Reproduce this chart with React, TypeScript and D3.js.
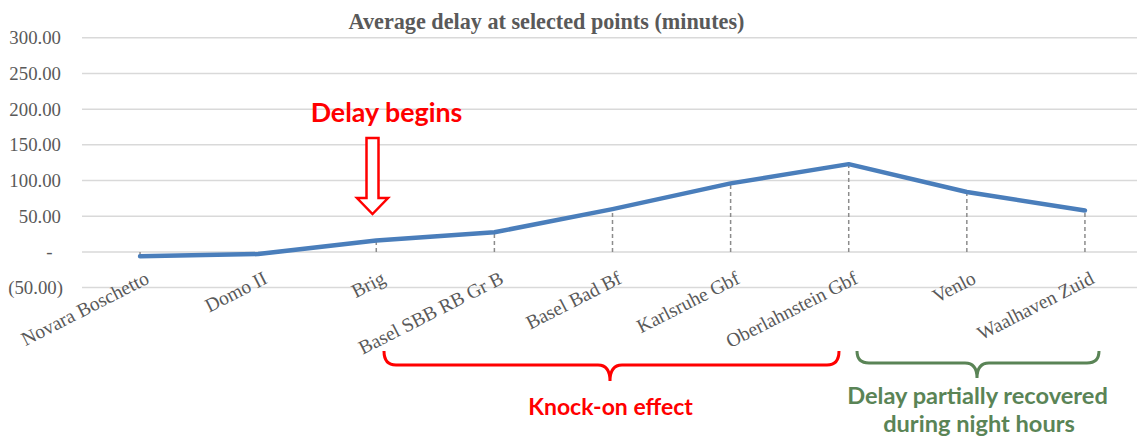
import React from "react";
import * as d3 from "d3";

const categories = [
  "Novara Boschetto",
  "Domo II",
  "Brig",
  "Basel SBB RB Gr B",
  "Basel Bad Bf",
  "Karlsruhe Gbf",
  "Oberlahnstein Gbf",
  "Venlo",
  "Waalhaven Zuid",
];
const avgDelay = [-6, -3, 16, 27.5, 60, 96, 123, 84, 58];
const yTicks = [-50, 0, 50, 100, 150, 200, 250, 300];

const W = 1137;
const H = 439;

function fmt(v: number) {
  if (v === 0) return "-";
  if (v < 0) return "(" + d3.format(".2f")(-v) + ")";
  return d3.format(".2f")(v);
}

function bracePath(x0: number, x1: number, cx: number, yTop: number, yLine: number, yTip: number, r: number) {
  return [
    `M${x0},${yTop}`,
    `Q${x0},${yLine} ${x0 + r},${yLine}`,
    `L${cx - r},${yLine}`,
    `Q${cx},${yLine} ${cx},${yTip}`,
    `Q${cx},${yLine} ${cx + r},${yLine}`,
    `L${x1 - r},${yLine}`,
    `Q${x1},${yLine} ${x1},${yTop}`,
  ].join(" ");
}

export default function App() {
  const x = d3.scaleBand<string>().domain(categories).range([81, 1144]).padding(0);
  const cx = (c: string) => (x(c) as number) + x.bandwidth() / 2;
  const y = d3.scaleLinear().domain([-50, 300]).range([287.6, 37.8]);

  const pts: [number, number][] = categories.map((c, i) => [cx(c), y(avgDelay[i])]);
  const line = d3
    .line<[number, number]>()
    .x((d) => d[0])
    .y((d) => d[1])
    .curve(d3.curveLinear);

  const serif = "'Liberation Serif', 'Times New Roman', serif";
  const sans = "Lato, 'Open Sans', sans-serif";
  const gray = "#595959";
  const red = "#ff0000";
  const green = "#5a8456";

  const ax = 372.5;
  const aTop = 138;
  const aHead = 198;
  const aTip = 214;
  const shaftHalf = 6;
  const headHalf = 15.5;
  const arrowPath = `M${ax - shaftHalf},${aTop} L${ax + shaftHalf},${aTop} L${ax + shaftHalf},${aHead} L${ax + headHalf},${aHead} L${ax},${aTip} L${ax - headHalf},${aHead} L${ax - shaftHalf},${aHead} Z`;

  return (
    <svg
      width={W}
      height={H}
      style={{ position: "absolute", left: 0, top: 0, background: "#fff" }}
    >
      <rect width={W} height={H} fill="#fff" />
      <text
        x={546.5}
        y={28.5}
        textAnchor="middle"
        fontFamily={serif}
        fontWeight="bold"
        fontSize={22.2}
        fill={gray}
      >
        Average delay at selected points (minutes)
      </text>

      {yTicks.map((t) => (
        <g key={t}>
          <line x1={82} x2={W} y1={y(t)} y2={y(t)} stroke="#d9d9d9" strokeWidth={1.5} />
          <text
            x={t === 0 ? 49.5 : t < 0 ? 63 : 61}
            y={y(t)}
            dy="0.35em"
            textAnchor={t === 0 ? "middle" : "end"}
            fontFamily={serif}
            fontSize={18.8}
            fill={gray}
          >
            {fmt(t)}
          </text>
        </g>
      ))}

      {categories.map((c, i) => (
        <line
          key={"d" + c}
          x1={cx(c)}
          x2={cx(c)}
          y1={y(0)}
          y2={y(avgDelay[i])}
          stroke="#8c8c8c"
          strokeWidth={1.5}
          strokeDasharray="4,3"
        />
      ))}

      <path
        d={line(pts) as string}
        fill="none"
        stroke="#4a7ebb"
        strokeWidth={4.5}
        strokeLinecap="round"
        strokeLinejoin="round"
      />

      {categories.map((c) => (
        <text
          key={"l" + c}
          transform={`translate(${cx(c) + 4},${270}) rotate(-27)`}
          textAnchor="end"
          dy="0.72em"
          fontFamily={serif}
          fontSize={19.5}
          fill={gray}
        >
          {c}
        </text>
      ))}

      <text
        x={386.5}
        y={121.5}
        textAnchor="middle"
        fontFamily={sans}
        fontWeight="bold"
        fontSize={26.8}
        fill={red}
      >
        Delay begins
      </text>
      <path d={arrowPath} fill="#fff" stroke={red} strokeWidth={2.5} strokeLinejoin="miter" />

      <path
        d={bracePath(384, 839, 610, 351, 365, 381, 12)}
        fill="none"
        stroke={red}
        strokeWidth={3}
      />
      <text
        x={610.5}
        y={415}
        textAnchor="middle"
        fontFamily={sans}
        fontWeight="bold"
        fontSize={23}
        fill={red}
      >
        Knock-on effect
      </text>

      <path
        d={bracePath(857, 1099, 977, 351, 363, 378, 12)}
        fill="none"
        stroke={green}
        strokeWidth={3}
      />
      <text
        x={977.5}
        y={404}
        textAnchor="middle"
        fontFamily={sans}
        fontWeight="bold"
        fontSize={23.6}
        fill={green}
      >
        Delay partially recovered
      </text>
      <text
        x={979}
        y={431.5}
        textAnchor="middle"
        fontFamily={sans}
        fontWeight="bold"
        fontSize={23.6}
        fill={green}
      >
        during night hours
      </text>
    </svg>
  );
}
